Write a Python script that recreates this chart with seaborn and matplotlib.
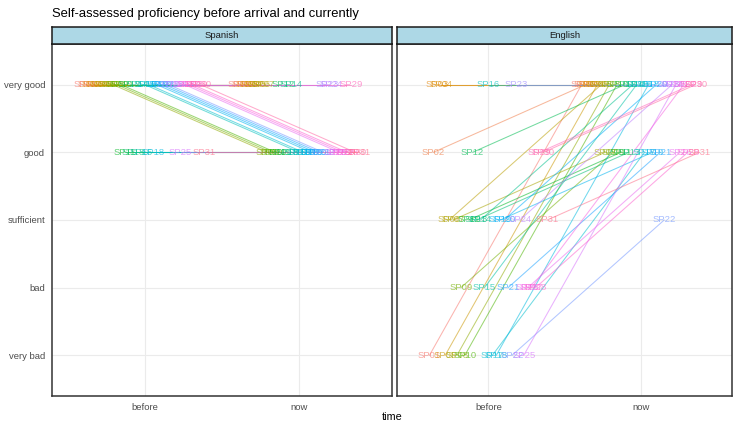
import numpy as np
import pandas as pd
import matplotlib
matplotlib.use("Agg")
import matplotlib.pyplot as plt
import seaborn as sns

# ---- data -------------------------------------------------------------
participants = ["SP01", "SP02", "SP03", "SP04", "SP05", "SP06", "SP07", "SP08",
                "SP09", "SP10", "SP11", "SP12", "SP13", "SP14", "SP15", "SP16",
                "SP17", "SP18", "SP19", "SP20", "SP21", "SP22", "SP23", "SP24",
                "SP25", "SP26", "SP27", "SP28", "SP29", "SP30", "SP31"]
levels = ["very bad", "bad", "sufficient", "good", "very good"]
times = ["before", "now"]
languages = ["Spanish", "English"]

# self-assessment codes: VB very bad, B bad, S sufficient, G good, VG very good
spanish_before = ["VG", "VG", "VG", "VG", "VG", "VG", "VG", "VG", "VG", "VG",
                  "G", "VG", "G", "VG", "G", "VG", "VG", "G", "VG", "VG",
                  "VG", "VG", "VG", "VG", "G", "VG", "VG", "VG", "VG", "VG", "G"]
spanish_now = ["VG", "VG", "VG", "VG", "VG", "VG", "VG", "G", "G", "G",
               "G", "VG", "G", "VG", "G", "G", "G", "G", "G", "G",
               "G", "G", "VG", "VG", "G", "G", "G", "G", "VG", "G", "G"]
english_before = ["VB", "G", "VG", "VG", "VB", "S", "S", "VB", "B", "VB",
                  "S", "G", "S", "S", "B", "VG", "VB", "VB", "S", "S",
                  "B", "VB", "VG", "S", "VB", "B", "B", "B", "G", "G", "S"]
english_now = ["VG", "VG", "VG", "VG", "VG", "VG", "G", "VG", "G", "VG",
               "G", "VG", "G", "VG", "VG", "VG", "G", "VG", "G", "VG",
               "G", "S", "VG", "VG", "VG", "G", "VG", "G", "VG", "VG", "G"]

code_to_level = {"VB": "very bad", "B": "bad", "S": "sufficient",
                 "G": "good", "VG": "very good"}


# ---- ggplot-like hue palette (HCL, c=100, l=65) ------------------------
def hcl_to_hex(h, c=100.0, l=65.0):
    hr = np.deg2rad(h)
    u, v = c * np.cos(hr), c * np.sin(hr)
    Xn, Yn, Zn = 0.95047, 1.0, 1.08883
    un = 4 * Xn / (Xn + 15 * Yn + 3 * Zn)
    vn = 9 * Yn / (Xn + 15 * Yn + 3 * Zn)
    Y = Yn * ((l + 16) / 116) ** 3
    up = u / (13 * l) + un
    vp = v / (13 * l) + vn
    X = Y * 9 * up / (4 * vp)
    Z = Y * (12 - 3 * up - 20 * vp) / (4 * vp)
    M = np.array([[3.2406, -1.5372, -0.4986],
                  [-0.9689, 1.8758, 0.0415],
                  [0.0557, -0.2040, 1.0570]])
    rgb = M @ np.array([X, Y, Z])
    rgb = np.where(rgb <= 0.0031308, 12.92 * rgb,
                   1.055 * np.clip(rgb, 0, None) ** (1 / 2.4) - 0.055)
    rgb = np.clip(rgb, 0, 1)
    return matplotlib.colors.to_hex(rgb)


n = len(participants)
hues = np.linspace(15, 375, n + 1)[:n]
palette = {p: hcl_to_hex(h) for p, h in zip(participants, hues)}

# ---- long table, dodged x positions -----------------------------------
dodge_width = 0.8
offsets = {p: (i - (n - 1) / 2) * dodge_width / n for i, p in enumerate(participants)}
level_pos = {lv: i + 1 for i, lv in enumerate(levels)}

rows = []
answers = {"Spanish": (spanish_before, spanish_now),
           "English": (english_before, english_now)}
for lang in languages:
    for t_idx, t in enumerate(times):
        for p, code in zip(participants, answers[lang][t_idx]):
            rows.append({"language": lang, "participant": p, "time": t,
                         "level": code_to_level[code],
                         "x": t_idx + 1 + offsets[p],
                         "y": level_pos[code_to_level[code]]})
df = pd.DataFrame(rows)

# ---- figure -----------------------------------------------------------
sns.set_style("white")
plt.rcParams["font.family"] = ["Liberation Sans", "DejaVu Sans"]

W, H = 733, 424
fig = plt.figure(figsize=(W / 100, H / 100), dpi=100)


def box(x0, y0, x1, y1):
    return [x0 / W, 1 - y1 / H, (x1 - x0) / W, (y1 - y0) / H]


panel_boxes = {"Spanish": (52, 44, 392, 396), "English": (397, 44, 732, 396)}

for k, lang in enumerate(languages):
    x0, y0, x1, y1 = panel_boxes[lang]
    ax = fig.add_axes(box(x0, y0, x1, y1))
    sub = df[df["language"] == lang]

    sns.lineplot(data=sub, x="x", y="y", hue="participant", units="participant",
                 estimator=None, sort=False, palette=palette, alpha=0.55,
                 linewidth=0.75, legend=False, ax=ax)
    for _, r in sub.iterrows():
        ax.text(r["x"], r["y"], r["participant"], color=palette[r["participant"]],
                alpha=0.65, ha="center", va="center", fontsize=6.8)

    ax.set_xlim(0.4, 2.6)
    ax.set_ylim(0.4, 5.6)
    ax.set_xticks([1, 2])
    ax.set_xticklabels(times)
    ax.set_yticks(list(level_pos.values()))
    if k == 0:
        ax.set_yticklabels(levels)
    else:
        ax.set_yticklabels([])
    ax.set_xlabel("")
    ax.set_ylabel("")
    ax.grid(True, color="#EBEBEB", linewidth=0.8)
    ax.set_axisbelow(True)
    for s in ax.spines.values():
        s.set_color("#333333")
        s.set_linewidth(1.1)
    ax.tick_params(length=2.5, width=0.6, color="#333333", labelcolor="#4D4D4D",
                   labelsize=6.8, pad=2.5)
    if k == 1:
        ax.tick_params(axis="y", length=0)

    # facet strip
    sx = fig.add_axes(box(x0, 27, x1, 44))
    sx.set_facecolor("#ADD8E6")
    sx.set_xticks([])
    sx.set_yticks([])
    for s in sx.spines.values():
        s.set_color("#1A1A1A")
        s.set_linewidth(1.1)
    sx.text(0.5, 0.5, lang, ha="center", va="center", fontsize=6.8,
            color="#1A1A1A", transform=sx.transAxes)

fig.text(52 / W, 1 - 14 / H, "Self-assessed proficiency before arrival and currently",
         ha="left", va="center", fontsize=9.4, color="black")
fig.text(392 / W, 1 - 417 / H, "time", ha="center", va="center", fontsize=7.8,
         color="black")

fig.savefig("out.png", dpi=100, facecolor="white")
